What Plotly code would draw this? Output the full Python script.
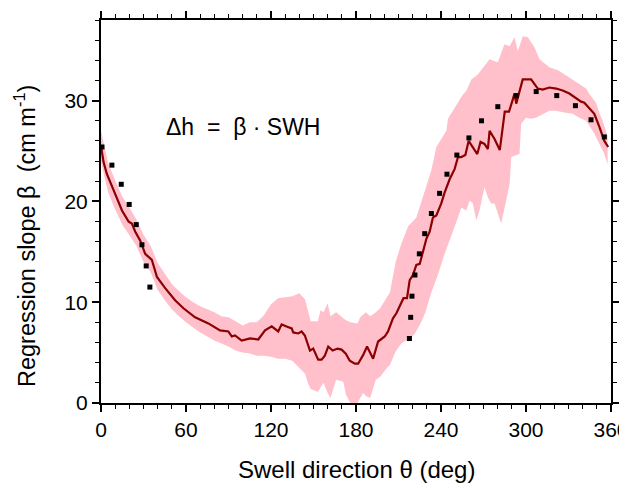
import plotly.graph_objects as go

# Mean regression slope (dark red line)
theta = [0, 1.8, 4.2, 7.7, 11.3, 14.8, 19.5, 21.8, 24.2, 27.7, 31.2, 35.9, 39.5, 45.3,
         52.3, 58.2, 66.4, 75.8, 84.0, 89.9, 92.3, 94.6, 99.3, 105.2, 111.0, 115.8,
         120.5, 125.1, 127.5, 131.0, 134.6, 135.7, 139.2, 141.6, 143.9, 147.5, 149.8,
         153.3, 155.7, 158.0, 160.4, 163.5, 167.0, 169.8, 172.8, 175.6, 179.2, 181.5,
         185.0, 187.8, 189.7, 192.1, 195.6, 200.3, 202.6, 206.1, 208.5, 211.0, 213.5,
         216.0, 217.9, 220.2, 222.6, 225.0, 227.3, 229.7, 232.0, 234.3, 236.7, 240.2,
         242.6, 246.1, 249.6, 252.0, 254.3, 257.2, 259.5, 262.5, 265.6, 267.9, 270.7,
         273.1, 274.3, 277.8, 281.5, 285.0, 288.0, 290.0, 291.9, 293.1, 295.4, 297.7,
         303.6, 308.3, 311.8, 316.5, 321.3, 325.9, 330.6, 335.4, 338.9, 341.2, 344.7,
         348.2, 351.8, 355.3, 358.0]
beta = [25.5, 23.9, 22.7, 21.6, 20.3, 19.1, 18.0, 17.8, 17.0, 16.1, 14.8, 14.2, 12.5, 11.4,
        10.2, 9.4, 8.5, 7.9, 7.2, 7.1, 6.6, 6.7, 6.2, 6.4, 6.3, 7.2,
        7.6, 7.1, 7.8, 7.6, 7.4, 7.0, 6.9, 7.1, 6.7, 5.2, 5.4,
        4.3, 4.3, 4.7, 5.6, 5.2, 5.4, 5.3, 4.9, 4.2, 3.9, 3.9,
        4.75, 5.6, 5.1, 4.4, 6.1, 6.6, 7.1, 8.4, 8.9, 9.7, 10.4,
        10.4, 12.2, 12.7, 13.7, 13.8, 15.1, 16.3, 17.0, 18.4, 18.6, 19.8,
        20.9, 22.2, 23.2, 24.4, 24.4, 24.6, 26.0, 25.4, 24.7, 25.9, 25.7,
        25.2, 27.0, 26.2, 25.1, 28.9, 28.9, 29.8, 30.7, 29.7, 31.0, 32.1,
        32.1, 31.2, 31.1, 31.3, 31.2, 31.0, 30.7, 30.2, 29.9, 29.8, 29.3,
        28.7, 27.4, 26.0, 25.4]

# Upper edge of the spread band
upper_theta = [0, 5, 10, 15, 20, 25, 30, 35, 40, 45, 50, 55, 60, 65, 70, 75, 80, 85, 90,
               95, 100, 105, 110, 115, 120, 125, 130, 135, 140, 144, 146, 148, 153, 155,
               157, 160, 162, 166, 171, 173, 176, 181, 183, 185, 187, 190, 194, 197, 199,
               202, 204, 206, 208, 212, 216.7, 222.6, 228.5, 233.2, 236.7, 240, 243.8,
               244.9, 250.8, 255, 258, 261.4, 266, 268.4, 274.3, 280.1, 284.8, 288.4,
               291.9, 294.2, 297.7, 301.3, 306, 309.5, 316.5, 323, 328.3, 335.4, 342.4,
               345, 349.4, 352, 354.1, 357.6]
upper = [27.0, 23.8, 22.1, 20.5, 19.4, 18.2, 16.7, 15.6, 13.9, 12.8, 11.8, 11.1, 10.5,
         10.0, 9.6, 9.3, 9.0, 8.6, 8.5, 8.1, 7.7, 8.0, 8.0, 8.7, 9.8, 10.4, 10.5, 10.6,
         10.9, 10.3, 9.2, 8.1, 8.1, 9.2, 9.0, 9.9, 8.6, 9.0, 8.4, 8.2, 8.0, 7.9, 8.5,
         8.8, 9.0, 8.6, 9.0, 9.4, 9.9, 10.5, 11.0, 12.5, 14.0, 15.8, 17.5, 18.4, 21.1,
         23.1, 25.4, 26.2, 27.0, 28.2, 29.5, 30.5, 31.0, 32.1, 32.6, 33.0, 34.1, 33.8,
         35.6, 35.4, 36.3, 34.9, 36.4, 36.3, 35.3, 34.1, 33.3, 33.0, 32.5, 31.8, 31.2,
         30.6, 29.8, 28.7, 28.0, 26.5]

# Lower edge of the spread band
lower_theta = [0, 5, 10, 15, 20, 25, 30, 35, 40, 45, 50, 55, 60, 65, 70, 75, 80, 85, 90,
               95, 100, 105, 110, 115, 120, 125, 130, 135, 140, 144, 146, 148, 153, 155,
               157, 160, 162, 166, 171, 173, 176, 181, 183, 185, 187, 190, 194, 197, 199,
               202, 204, 206, 208, 212, 215, 218, 222, 226, 229, 233, 238, 242.6, 248.4,
               252, 254.3, 257.9, 260.2, 262.5, 264.9, 267.2, 270.7, 273.1, 275.5, 277.8,
               282.5, 284.5, 286.5, 288.4, 289.6, 295.4, 296.6, 300, 303.6, 307, 309.5,
               316.5, 321, 328, 333, 337.7, 342.4, 344.7, 348, 351.8, 355, 357.6]
lower = [23.9, 20.9, 19.2, 17.7, 16.6, 15.6, 14.0, 13.0, 11.2, 10.2, 9.3, 8.6, 8.0, 7.5,
         7.0, 6.6, 6.2, 5.9, 5.6, 5.2, 5.0, 4.9, 4.7, 4.7, 4.6, 4.4, 4.4, 4.2, 3.5, 2.9,
         2.0, 1.4, 1.1, 1.6, 2.0, 1.0, 0.5, 2.3, 2.1, 0.8, 0.0, 0.0, 0.5, 1.0, 0.7, 0.5,
         2.3, 2.6, 2.9, 3.5, 3.8, 4.5, 5.1, 5.9, 6.2, 6.3, 7.0, 8.0, 9.0, 10.9, 12.8,
         14.8, 17.1, 18.4, 19.4, 19.1, 20.1, 19.8, 18.1, 19.1, 21.4, 20.4, 19.8, 19.8,
         17.8, 19.0, 20.4, 21.7, 24.4, 24.7, 27.7, 28.3, 28.2, 28.3, 28.5, 29.0, 29.0,
         28.8, 28.7, 28.3, 28.0, 27.5, 26.8, 25.7, 24.8, 23.7]

# Black square markers (reference curve)
dot_theta = [0.7, 7.7, 14.3, 19.9, 24.9, 28.9, 31.9, 34.5,
             217.7, 218.6, 219.5, 221.6, 224.7, 228.5, 233.2,
             239.0, 244.2, 251.2, 259.7, 268.6, 280.1, 293.1, 307.2, 321.7, 334.9,
             345.9, 355.3]
dot_beta = [25.4, 23.6, 21.7, 19.7, 17.7, 15.7, 13.6, 11.5,
            6.4, 8.5, 10.6, 12.7, 14.8, 16.8, 18.8,
            20.8, 22.7, 24.6, 26.3, 28.0, 29.4, 30.5, 30.9, 30.5, 29.5,
            28.1, 26.4]

x_ticks = [0, 60, 120, 180, 240, 300, 360]
y_ticks = [0, 10, 20, 30]

FONT = "Liberation Sans, Arial, Helvetica, sans-serif"
NB = "\u00a0"

fig = go.Figure()
fig.add_trace(go.Scatter(
    x=upper_theta + lower_theta[::-1],
    y=upper + lower[::-1],
    fill="toself", fillcolor="#FFC0CB", line=dict(width=0),
    mode="lines", hoverinfo="skip", showlegend=False))
fig.add_trace(go.Scatter(
    x=theta, y=beta, mode="lines",
    line=dict(color="#8B0000", width=2.2), showlegend=False))
fig.add_trace(go.Scatter(
    x=dot_theta, y=dot_beta, mode="markers",
    marker=dict(symbol="square", size=5, color="black"), showlegend=False))

# Equation label
fig.add_annotation(x=0.124, y=0.72, xref="paper", yref="paper",
                   text=f"\u0394h{NB}{NB}={NB}{NB}\u03b2{NB}\u00b7{NB}SWH", showarrow=False,
                   xanchor="left", yanchor="middle",
                   font=dict(family=FONT, size=23, color="black"))

# Axis titles
fig.add_annotation(x=0.5, y=0, xref="paper", yref="paper",
                   text="Swell direction \u03b8 (deg)", showarrow=False,
                   xanchor="center", yanchor="middle", yshift=-66,
                   font=dict(family=FONT, size=24, color="black"))
fig.add_annotation(x=0, y=0.436, xref="paper", yref="paper",
                   text=f"Regression slope \u03b2{NB}{NB}(cm m<sup>-1</sup>)", showarrow=False,
                   textangle=-90, xanchor="center", yanchor="middle", xshift=-76,
                   font=dict(family=FONT, size=23.5, color="black"))

axis_common = dict(
    showline=True, linewidth=2, linecolor="black", mirror="ticks",
    ticks="outside", ticklen=7, tickwidth=1.5, tickcolor="black",
    showgrid=False, zeroline=False, automargin=False,
    tickfont=dict(family=FONT, size=21, color="black"),
)

# the page body adds an 8px offset, so margins are reduced accordingly
fig.update_layout(
    width=627, height=488,
    margin=dict(l=93, r=24, t=12, b=93, autoexpand=False),
    paper_bgcolor="white", plot_bgcolor="white",
    xaxis=dict(range=[0, 360], tickvals=x_ticks,
               minor=dict(dtick=10, ticks="outside", ticklen=4, tickwidth=1.2,
                          tickcolor="black", showgrid=False),
               **axis_common),
    yaxis=dict(range=[0, 38], tickvals=y_ticks,
               minor=dict(dtick=2, ticks="outside", ticklen=4, tickwidth=1.2,
                          tickcolor="black", showgrid=False),
               **axis_common),
)

fig.write_html("out.html")
